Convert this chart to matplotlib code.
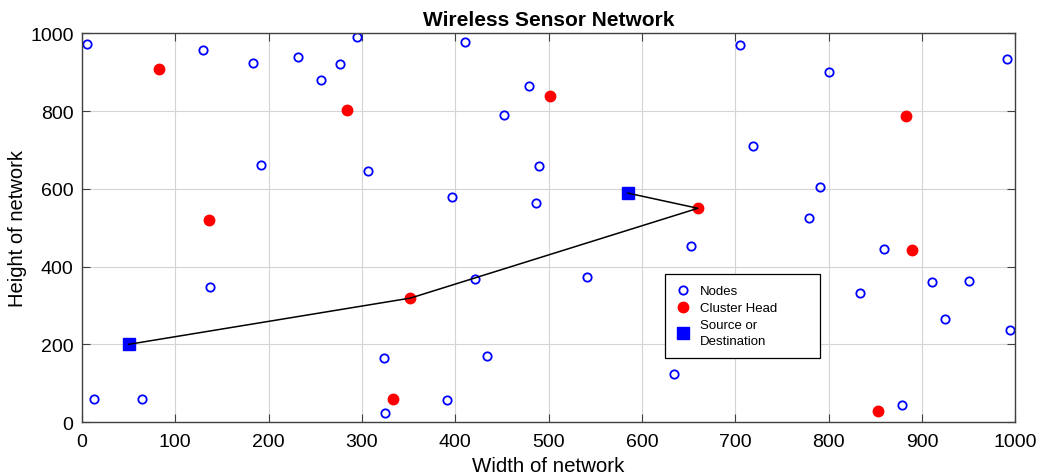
import numpy as np
import matplotlib
matplotlib.use('Agg')
import matplotlib.pyplot as plt

plt.rcParams['font.family'] = ['Liberation Sans', 'DejaVu Sans']

# ordinary sensor nodes
node_x = [5, 130, 183, 232, 256, 277, 295, 410, 452, 192, 306, 396,
          479, 705, 801, 991, 719, 490, 791, 486, 779,
          137, 421, 324, 434, 13, 64, 325, 391,
          653, 541, 859, 911, 950, 834, 925, 994, 634, 879]
node_y = [972, 957, 924, 940, 880, 920, 990, 977, 789, 662, 647, 579,
          865, 969, 900, 934, 710, 660, 604, 564, 525,
          347, 368, 165, 171, 59, 60, 23, 58,
          453, 373, 444, 361, 363, 331, 264, 238, 125, 43]

# cluster heads
ch_x = [83, 284, 136, 501, 883, 660, 352, 333, 889, 853]
ch_y = [908, 804, 521, 840, 788, 550, 319, 59, 443, 29]

# source / destination
sd_x = [585, 50]
sd_y = [589, 200]

# route between source and destination
route_x = [50, 352, 660, 585]
route_y = [200, 319, 550, 589]

fig = plt.figure(figsize=(10.37, 4.77), dpi=100)
ax = fig.add_axes([0.079, 0.113, 0.900, 0.815])

ax.plot(node_x, node_y, 'o', ls='none', mfc='none', mec='blue',
        ms=6, mew=1.3, label='Nodes')
ax.plot(ch_x, ch_y, 'o', ls='none', mfc='red', mec='red',
        ms=7.5, label='Cluster Head')
ax.plot(sd_x, sd_y, 's', ls='none', mfc='blue', mec='blue',
        ms=8.5, label='Source or\nDestination')
ax.plot(route_x, route_y, '-', color='black', lw=1.1, zorder=3)

ax.set_xlim(0, 1000)
ax.set_ylim(0, 1000)
ax.set_xticks(np.arange(0, 1001, 100))
ax.set_yticks(np.arange(0, 1001, 200))
ax.grid(True, color='#d4d4d4', lw=0.8)
ax.set_axisbelow(True)
ax.tick_params(direction='in', length=6, top=True, right=True,
               labelsize=14, color='#404040')
ax.tick_params(axis='x', pad=8)
ax.tick_params(axis='y', pad=6)
for s in ax.spines.values():
    s.set_color('#404040')
    s.set_linewidth(1.0)

ax.set_xlabel('Width of network', fontsize=14.8, labelpad=4)
ax.set_ylabel('Height of network', fontsize=14.5, labelpad=2)
ax.set_title('Wireless Sensor Network', fontsize=15, fontweight='bold', pad=6)

leg = ax.legend(loc='upper left', bbox_to_anchor=(0.625, 0.381, 0.166, 0.0),
                mode='expand', fontsize=9.5, frameon=True, fancybox=False,
                edgecolor='black', framealpha=1, borderaxespad=0,
                borderpad=0.85, handletextpad=0.8, labelspacing=0.35,
                handlelength=1.0)
leg.get_frame().set_linewidth(0.9)
for t in leg.get_texts():
    t.set_linespacing(1.45)

fig.savefig('out.png', dpi=100)
